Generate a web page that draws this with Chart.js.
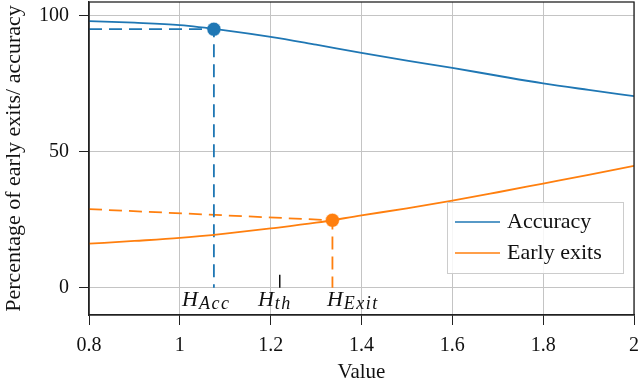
<!DOCTYPE html>
<html>
<head>
<meta charset="utf-8">
<script src="https://cdn.jsdelivr.net/npm/chart.js@4.4.0/dist/chart.umd.min.js"></script>
<style>
  html, body { margin: 0; padding: 0; background: #fff; }
  #wrap { width: 640px; height: 382px; }
</style>
</head>
<body>
<div id="wrap"><canvas id="grafico"></canvas></div>
<script>
// ---- data
var xs = [0.8, 0.9, 1.0, 1.1, 1.2, 1.3, 1.4, 1.5, 1.6, 1.7, 1.8, 1.9, 2.0];
var accuracy = [98.0, 97.4, 96.5, 94.6, 92.2, 89.3, 86.3, 83.5, 80.8, 77.9, 75.1, 72.7, 70.4];
var earlyExits = [16.2, 17.2, 18.3, 19.9, 21.8, 23.9, 26.6, 29.2, 32.0, 35.1, 38.3, 41.5, 44.8];

var xTicks = [0.8, 1, 1.2, 1.4, 1.6, 1.8, 2];
var yTicks = [0, 50, 100];

// marked points: H_Acc, H_Exit and the threshold H_th
var hAcc = [1.075, 95.0];
var hExit = [1.336, 24.8];
var exitGuideStart = 28.9;   // left end of the sloped orange guide
var hTh = [1.22, 4.8];       // x, height of the small tick

var hLabels = ['Acc', 'th', 'Exit'];
var hLabelX = [1.005, 1.172, 1.324];

var azul = '#1f77b4';
var laranja = '#ff7f0e';
var serif = "'Liberation Serif', 'Times New Roman', serif";

function pontos(xv, yv) {
    return xv.map((x, i) => ({ x: x, y: yv[i] }));
}

// frame around the plot, legend box and the H labels
var extras = {
    id: 'extras',
    afterDatasetsDraw(chart) {
        let ctx = chart.ctx;
        let a = chart.chartArea;
        let xs_ = chart.scales.x;
        let ys_ = chart.scales.y;

        ctx.save();
        ctx.strokeStyle = '#222';
        ctx.lineWidth = 1.3;
        ctx.strokeRect(a.left, a.top, a.right - a.left, a.bottom - a.top);

        // H labels
        ctx.fillStyle = '#111';
        ctx.textBaseline = 'alphabetic';
        ctx.textAlign = 'left';
        let base = ys_.getPixelForValue(0) + 18;
        hLabels.forEach((sub, i) => {
            let px = xs_.getPixelForValue(hLabelX[i]);
            ctx.font = 'italic 22px ' + serif;
            ctx.letterSpacing = '0px';
            ctx.fillText('H', px, base);
            let w = ctx.measureText('H').width;
            ctx.font = 'italic 18px ' + serif;
            ctx.letterSpacing = '1.5px';
            ctx.fillText(sub, px + w + 1, base + 3);
        });
        ctx.letterSpacing = '0px';

        // legend
        let bx = a.right - 187, by = a.bottom - 113, bw = 176, bh = 71;
        ctx.fillStyle = 'rgba(255,255,255,0.85)';
        ctx.fillRect(bx, by, bw, bh);
        ctx.strokeStyle = '#cccccc';
        ctx.lineWidth = 1;
        ctx.strokeRect(bx + 0.5, by + 0.5, bw, bh);
        ctx.font = '22px ' + serif;
        ctx.textBaseline = 'middle';
        [0, 1].forEach(i => {
            let ds = chart.data.datasets[i];
            let ly = by + 20 + i * 31;
            ctx.strokeStyle = ds.borderColor;
            ctx.lineWidth = 1.6;
            ctx.beginPath();
            ctx.moveTo(bx + 8, ly);
            ctx.lineTo(bx + 53, ly);
            ctx.stroke();
            ctx.fillStyle = '#111';
            ctx.fillText(ds.label, bx + 60, ly);
        });
        ctx.restore();
    }
};

var contexto = document.getElementById('grafico').getContext('2d');
var grafico = new Chart(contexto, {
    type: 'line',
    data: {
        datasets: [
            {
                label: 'Accuracy',
                data: pontos(xs, accuracy),
                borderColor: azul,
                borderWidth: 1.8,
                pointRadius: 0,
                cubicInterpolationMode: 'monotone'
            },
            {
                label: 'Early exits',
                data: pontos(xs, earlyExits),
                borderColor: laranja,
                borderWidth: 1.8,
                pointRadius: 0,
                cubicInterpolationMode: 'monotone'
            },
            {
                label: 'guia acc',
                data: [{ x: xs[0], y: hAcc[1] }, { x: hAcc[0], y: hAcc[1] }, { x: hAcc[0], y: 0 }],
                borderColor: azul,
                borderWidth: 1.8,
                borderDash: [13, 7],
                pointRadius: 0,
                tension: 0
            },
            {
                label: 'guia exit',
                data: [{ x: xs[0], y: exitGuideStart }, { x: hExit[0], y: hExit[1] }, { x: hExit[0], y: 0 }],
                borderColor: laranja,
                borderWidth: 1.8,
                borderDash: [13, 7],
                pointRadius: 0,
                tension: 0
            },
            {
                label: 'th',
                data: [{ x: hTh[0], y: 0 }, { x: hTh[0], y: hTh[1] }],
                borderColor: '#111',
                borderWidth: 1.5,
                pointRadius: 0
            },
            {
                label: 'pontos',
                type: 'scatter',
                data: [{ x: hAcc[0], y: hAcc[1] }, { x: hExit[0], y: hExit[1] }],
                pointBackgroundColor: [azul, laranja],
                pointBorderColor: ['rgba(255,255,255,0.55)', 'rgba(255,255,255,0.55)'],
                pointBorderWidth: 1,
                pointRadius: 7
            }
        ]
    },
    options: {
        responsive: true,
        maintainAspectRatio: false,
        animation: false,
        layout: { autoPadding: false, padding: { top: 2, right: 6, left: 0, bottom: 0 } },
        plugins: {
            legend: { display: false },
            tooltip: { enabled: false }
        },
        scales: {
            x: {
                type: 'linear',
                min: 0.8,
                max: 2,
                afterBuildTicks: s => { s.ticks = xTicks.map(v => ({ value: v })); },
                afterFit: s => { s.height = 67; s.paddingLeft = 0; s.paddingRight = 0; },
                grid: { color: '#c4c4c4', lineWidth: 1, tickColor: '#222', tickLength: 10 },
                border: { color: '#222', width: 1.3 },
                ticks: {
                    color: '#111',
                    padding: 9,
                    maxRotation: 0,
                    font: { family: serif, size: 20 },
                    callback: v => String(v)
                },
                title: {
                    display: true,
                    text: 'Value',
                    color: '#111',
                    font: { family: serif, size: 21, lineHeight: 1 },
                    padding: { top: 0, bottom: -1 }
                }
            },
            y: {
                min: -10,
                max: 105,
                afterBuildTicks: s => { s.ticks = yTicks.map(v => ({ value: v })); },
                afterFit: s => { s.width = 89; s.paddingTop = 0; s.paddingBottom = 0; },
                grid: { color: '#c4c4c4', lineWidth: 1, tickColor: '#222', tickLength: 10 },
                border: { color: '#222', width: 1.3 },
                ticks: {
                    color: '#111',
                    padding: 10,
                    font: { family: serif, size: 20 }
                },
                title: {
                    display: true,
                    text: 'Percentage of early exits/ accuracy',
                    color: '#111',
                    font: { family: serif, size: 22, lineHeight: 1 },
                    padding: { top: 3, bottom: 0 }
                }
            }
        }
    },
    plugins: [extras]
});
</script>
</body>
</html>
